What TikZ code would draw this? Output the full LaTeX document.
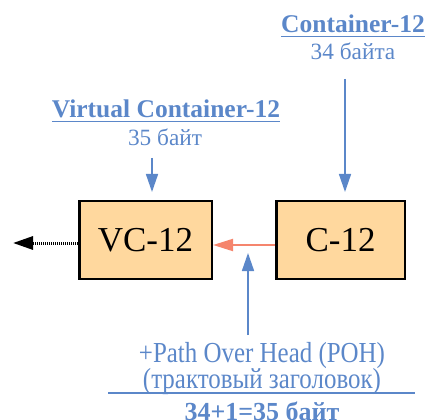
\documentclass[tikz,border=0pt]{standalone}
\usepackage{fontspec}
\setmainfont{Liberation Serif}
\newfontfamily\narrowserif[FakeStretch=0.86]{Liberation Serif}
\usepackage{xcolor}
\usetikzlibrary{arrows.meta, positioning}

\definecolor{ohblue}{HTML}{5B87C9}
\definecolor{boxfill}{HTML}{FFD89E}
\definecolor{salmon}{HTML}{F5856D}
\newcommand{\ulined}[1]{\setbox0=\hbox{#1}\rlap{\rule[-4.5pt]{\wd0}{1.8pt}}\box0}

\begin{document}
\begin{tikzpicture}[
          x=1pt, y=-1pt,
          block/.style={draw, line width=2.5pt, fill=boxfill, minimum height=77.5pt, inner sep=0pt, font=\fontsize{35}{40}\selectfont},
          title/.style={text=ohblue, anchor=base, inner sep=0pt, font=\fontsize{25.5}{30}\selectfont\bfseries},
          note/.style={text=ohblue, anchor=base, inner sep=0pt, font=\fontsize{23.3}{28}\selectfont},
          longnote/.style={note, font=\narrowserif\fontsize{29}{34}\selectfont},
          feed/.style={draw=ohblue, line width=1.5pt, -{Triangle[length=18pt, width=12pt]}}
        ]
          \useasboundingbox (0,0) rectangle (427,419);
          % containers
          \node[block, minimum width=132.5pt] (vc12) at (145.5,240) {VC-12};
          \node[block, minimum width=128.5pt] (c12) at (340.5,240) {C-12};
          % labels
          \node[title] (c12title) at (353,33) {\ulined{Container-12}};
          \node[note] (c12size) at (353,60) {34 байта};
          \node[title] (vc12title) at (166,118) {\ulined{Virtual Container-12}};
          \node[note] (vc12size) at (165,146) {35 байт};
          \node[longnote] (poh) at (262,362) {+Path Over Head (POH)};
          \node[longnote] (pohru) at (262,388) {(трактовый заголовок)};
          \node[title, font=\fontsize{26}{30}\selectfont\bfseries] (total) at (262,420) {34+1=35 байт};
          \coordinate (ruleleft) at (108,393);
          \coordinate (ruleright) at (415,393);
          \draw[ohblue, line width=1.8pt] (ruleleft) -- (ruleright);
          % arrows
          \coordinate (c12feed) at (345,79);
          \coordinate (vc12feed) at (152,158);
          \coordinate (pohfeed) at (248,335);
          \coordinate (pohtip) at (248,253);
          \coordinate (out) at (13,243);
          \draw[feed, shorten >=8pt] (c12feed) -- (c12feed |- c12.north);
          \draw[feed, shorten >=8pt] (vc12feed) -- (vc12feed |- vc12.north);
          \draw[feed] (pohfeed) -- (pohtip);
          \draw[salmon, line width=2pt, -{Triangle[length=20pt, width=12pt]}] ([yshift=-5pt]c12.west) -- ([yshift=-5pt]vc12.east);
          \draw[line width=3pt, dash pattern=on 1pt off 1pt, -{Triangle[length=20pt, width=13pt]}] ([yshift=-3pt]vc12.west) -- (out);
        \end{tikzpicture}
\end{document}
